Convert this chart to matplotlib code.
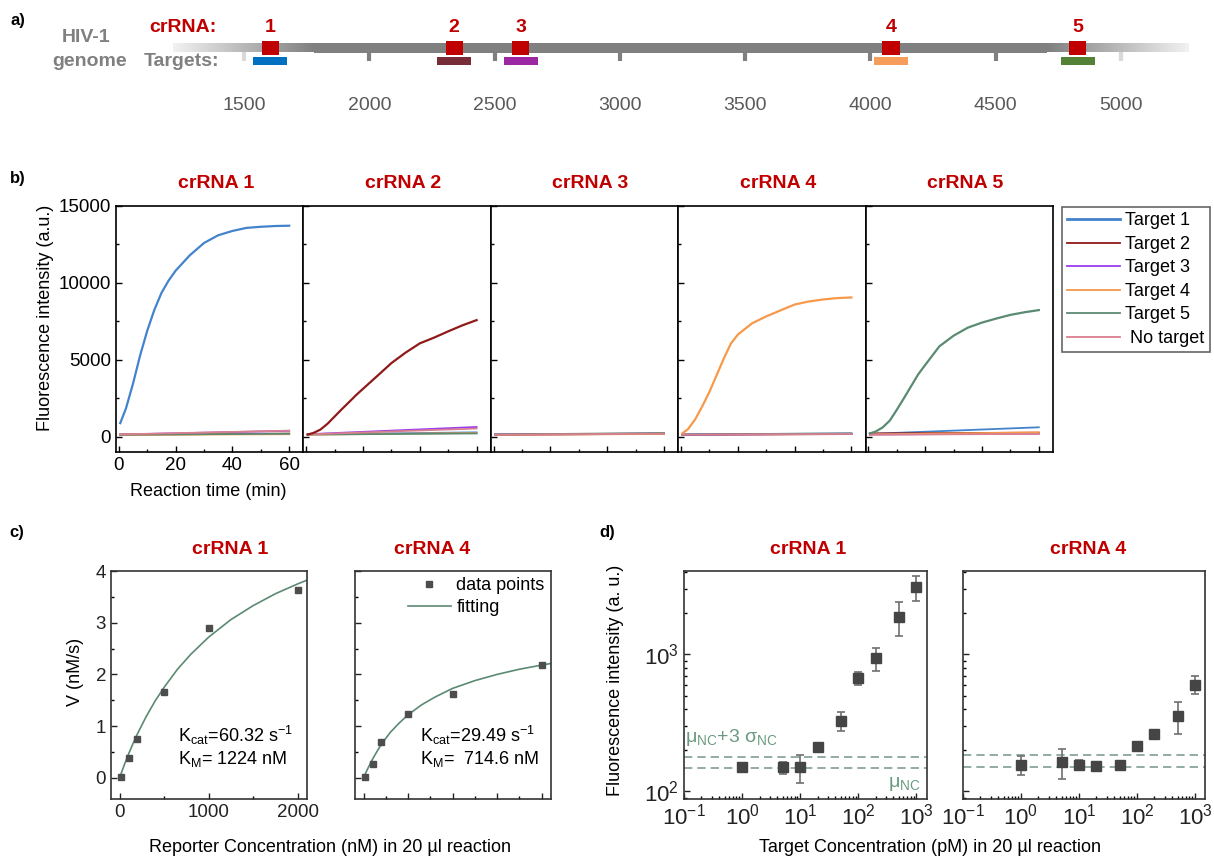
import numpy as np
import matplotlib
matplotlib.use('Agg')
import matplotlib.pyplot as plt
from matplotlib.patches import Rectangle
from matplotlib.colors import LinearSegmentedColormap
from matplotlib.lines import Line2D
from matplotlib.ticker import MultipleLocator, LogLocator, NullFormatter

W, H = 1214, 859
plt.rcParams['font.family'] = ['Liberation Sans', 'DejaVu Sans']
plt.rcParams['mathtext.fontset'] = 'custom'
plt.rcParams['mathtext.rm'] = 'Liberation Sans'
plt.rcParams['mathtext.it'] = 'Liberation Sans:italic'
plt.rcParams['mathtext.bf'] = 'Liberation Sans:bold'
plt.rcParams['mathtext.default'] = 'regular'
plt.rcParams['xtick.direction'] = 'in'
plt.rcParams['ytick.direction'] = 'in'

RED = '#c00000'
GRAY = '#808080'

# ---------------- data: a) genome map
genome_ticks = [1500, 2000, 2500, 3000, 3500, 4000, 4500, 5000]
crrna_names = ['1', '2', '3', '4', '5']
crrna_pos = [1604, 2338, 2605, 4082, 4828]
target_colors = ['#0070c0', '#772c38', '#9b27a3', '#f79d5c', '#538135']
genome_start, solid_start, solid_end, genome_end = 1217, 1779, 4704, 5267

# ---------------- data: b) kinetics (a.u.)
t_curve = [0.5, 2.5, 5, 7.5, 10, 12.5, 15, 17.5, 20, 25, 30, 35, 40, 45, 50, 55, 60]
signal_t1 = [900, 1850, 3470, 5300, 6900, 8250, 9350, 10150, 10800, 11800, 12600,
             13100, 13380, 13580, 13650, 13700, 13720]
signal_t2 = [160, 260, 480, 860, 1330, 1800, 2250, 2710, 3130, 3960, 4800, 5480,
             6080, 6450, 6860, 7250, 7590]
signal_t4 = [240, 520, 1150, 2000, 2930, 4000, 5070, 6050, 6650, 7380, 7830, 8220,
             8600, 8800, 8930, 9020, 9060]
signal_t5 = [230, 350, 620, 1060, 1770, 2520, 3290, 4060, 4680, 5890, 6580, 7100,
             7430, 7690, 7930, 8100, 8240]
signals = {0: signal_t1, 1: signal_t2, 3: signal_t4, 4: signal_t5}

t_base = [0.5, 60]
# rows: crRNA 1..5, columns: Target 1..5, No target (start / end values)
base_start = [[None, 150, 160, 140, 150, 170],
              [170, None, 180, 150, 160, 170],
              [160, 150, 150, 130, 160, 150],
              [170, 140, 150, None, 160, 150],
              [200, 230, 160, 170, None, 150]]
base_end = [[None, 220, 400, 180, 210, 410],
            [300, None, 650, 260, 230, 550],
            [200, 210, 230, 200, 260, 220],
            [230, 190, 210, None, 230, 200],
            [630, 280, 220, 300, None, 200]]
series_labels = ['Target 1', 'Target 2', 'Target 3', 'Target 4', 'Target 5', ' No target']
series_colors = ['#4383cc', '#8e1a1a', '#9b3cf0', '#f7994a', '#5b8a72', '#d9808e']
panel_titles = ['crRNA 1', 'crRNA 2', 'crRNA 3', 'crRNA 4', 'crRNA 5']

# ---------------- data: c) Michaelis-Menten
reporter_nM = [10, 100, 200, 500, 1000, 2000]
v_crrna1 = [0.02, 0.39, 0.75, 1.65, 2.90, 3.63]
v_crrna4 = [0.02, 0.27, 0.69, 1.24, 1.63, 2.19]
fit_nM = [10, 25, 50, 100, 150, 200, 300, 400, 500, 650, 800, 1000, 1250, 1500, 1750, 2000, 2100]
fit_crrna1 = [0.05, 0.12, 0.24, 0.46, 0.66, 0.85, 1.19, 1.49, 1.75, 2.10, 2.39, 2.72,
              3.06, 3.33, 3.56, 3.75, 3.82]
fit_crrna4 = [0.04, 0.10, 0.19, 0.36, 0.51, 0.65, 0.88, 1.06, 1.22, 1.41, 1.56, 1.73,
              1.88, 2.00, 2.10, 2.18, 2.21]
kin_text = ['K$_{cat}$=60.32 s$^{-1}$\nK$_{M}$= 1224 nM',
            'K$_{cat}$=29.49 s$^{-1}$\nK$_{M}$=  714.6 nM']

# ---------------- data: d) limit of detection
target_pM = [1, 5, 10, 20, 50, 100, 200, 500, 1000]
fl_crrna1 = [150, 150, 150, 211, 327, 668, 935, 1880, 3076]
err_crrna1 = [0, 15, 35, 8, 53, 69, 175, 520, 620]
fl_crrna4 = [156, 163, 157, 152, 157, 216, 264, 357, 601]
err_crrna4 = [24, 40, 13, 0, 0, 0, 0, 93, 89]
mu_nc = [147, 151]
mu3s_nc = [179, 185]


def box(l, t, r, b):
    return [l / W, 1 - b / H, (r - l) / W, (b - t) / H]


def fx(px):
    return px / W


def fy(py):
    return 1 - py / H


fig = plt.figure(figsize=(W / 100, H / 100), dpi=100)

# ================= a)
ax = fig.add_axes([0, 1 - 130 / H, 1, 130 / H])
ax.axis('off')
cmap = LinearSegmentedColormap.from_list('g', ['#f2f2f2', GRAY])
grad = np.linspace(0, 1, 256).reshape(1, -1)
ax.imshow(grad, cmap=cmap, extent=(genome_start, solid_start, 52, 43), aspect='auto')
ax.imshow(grad[:, ::-1], cmap=cmap, extent=(solid_end, genome_end, 52, 43), aspect='auto')
ax.add_patch(Rectangle((solid_start, 42.5), solid_end - solid_start, 10, color=GRAY, lw=0))
ax.set_xlim(526, 5371)
ax.set_ylim(130, 0)
for g in genome_ticks:
    c = '#d9d9d9' if g in (1500, 5000) else GRAY
    ax.plot([g, g], [52, 61], color=c, lw=3, solid_capstyle='butt')
    ax.text(g, 106, str(g), ha='center', va='center', fontsize=14, color='#595959')
for name, pos, col in zip(crrna_names, crrna_pos, target_colors):
    ax.add_patch(Rectangle((pos - 34, 41), 68, 14, color=RED, lw=0, zorder=3))
    ax.add_patch(Rectangle((pos - 68, 57), 136, 8, color=col, lw=0))
    ax.text(pos, 28, name, ha='center', va='center', fontsize=14, color=RED, fontweight='bold')
fig.text(fx(183), fy(27), 'crRNA:', ha='center', va='center', fontsize=14, color=RED, fontweight='bold')
fig.text(fx(86), fy(38), 'HIV-1', ha='center', va='center', fontsize=14, color=GRAY, fontweight='bold')
fig.text(fx(90), fy(62), 'genome', ha='center', va='center', fontsize=14, color=GRAY, fontweight='bold')
fig.text(fx(181), fy(62), 'Targets:', ha='center', va='center', fontsize=14, color=GRAY, fontweight='bold')

# ================= b)
pw = (1053 - 116) / 5
for i in range(5):
    ax = fig.add_axes(box(116 + i * pw, 206, 116 + (i + 1) * pw, 452))
    for j in range(6):
        if base_start[i][j] is None:
            continue
        ax.plot(t_base, [base_start[i][j], base_end[i][j]], color=series_colors[j], lw=1.3)
    if i in signals:
        ax.plot(t_curve, signals[i], color=series_colors[i], lw=1.6)
    ax.set_xlim(-1, 65)
    ax.set_ylim(-975, 15000)
    ax.xaxis.set_major_locator(MultipleLocator(20))
    ax.xaxis.set_minor_locator(MultipleLocator(10))
    ax.yaxis.set_major_locator(MultipleLocator(5000))
    ax.yaxis.set_minor_locator(MultipleLocator(2500))
    ax.tick_params(which='major', length=4, width=1, labelsize=13.5)
    ax.tick_params(which='minor', length=2, width=1)
    for s in ax.spines.values():
        s.set_linewidth(1.2)
    if i > 0:
        ax.tick_params(labelleft=False, labelbottom=False)
    fig.text(fx(116 + i * pw + pw / 2 + 6), fy(184), panel_titles[i], ha='center', va='center',
             fontsize=14, color=RED, fontweight='bold')
fig.text(fx(208), fy(492), 'Reaction time (min)', ha='center', va='center', fontsize=13)
fig.text(fx(46), fy(318), 'Fluorescence intensity (a.u.)', ha='center', va='center',
         fontsize=13, rotation=90)
handles = [Line2D([], [], color=c, lw=2 if k == 0 else 1.3) for k, c in enumerate(series_colors)]
leg = fig.legend(handles, series_labels, loc='upper left', bbox_to_anchor=(fx(1062), fy(207)),
                 fontsize=13, frameon=True, fancybox=False, edgecolor='#404040',
                 handlelength=2.9, handletextpad=0.3, labelspacing=0.36, borderpad=0.3,
                 borderaxespad=0)
leg.get_frame().set_linewidth(1.2)

# ================= c)
FIT = '#5b8a72'
MK = '#4d4d4d'
c_boxes = [(111, 571, 307, 799), (355, 571, 551, 799)]
c_vals = [v_crrna1, v_crrna4]
c_fits = [fit_crrna1, fit_crrna4]
c_titles = [(230, 'crRNA 1'), (432, 'crRNA 4')]
c_text_x = [0.34, 0.33]
for k in range(2):
    ax = fig.add_axes(box(*c_boxes[k]))
    ax.plot(reporter_nM, c_vals[k], 's', color=MK, ms=5, label='data points', zorder=3)
    ax.plot(fit_nM, c_fits[k], '-', color=FIT, lw=1.2, label='fitting')
    ax.set_xlim(-97, 2105)
    ax.set_ylim(-0.41, 4.0)
    ax.yaxis.set_major_locator(MultipleLocator(1))
    ax.yaxis.set_minor_locator(MultipleLocator(0.5))
    if k == 0:
        ax.xaxis.set_major_locator(MultipleLocator(1000))
        ax.xaxis.set_minor_locator(MultipleLocator(500))
    else:
        ax.xaxis.set_major_locator(MultipleLocator(500))
        ax.xaxis.set_minor_locator(MultipleLocator(250))
        ax.tick_params(labelleft=False, labelbottom=False)
        ax.legend(loc='upper right', bbox_to_anchor=(1.0, 1.0), frameon=False, fontsize=13,
                  handlelength=2.4, handletextpad=0.3, labelspacing=0.25, borderpad=0.35,
                  borderaxespad=0, numpoints=1)
    ax.tick_params(which='major', length=4, width=1, labelsize=13.5, colors='#222222')
    ax.tick_params(which='minor', length=2, width=1)
    for s in ax.spines.values():
        s.set_linewidth(1.2)
        s.set_color('#333333')
    ax.text(c_text_x[k], 0.13, kin_text[k], transform=ax.transAxes, fontsize=13,
            linespacing=1.15, va='bottom', ha='left')
    fig.text(fx(c_titles[k][0]), fy(549), c_titles[k][1], ha='center', va='center',
             fontsize=14, color=RED, fontweight='bold')
fig.text(fx(75), fy(672), 'V (nM/s)', ha='center', va='center', fontsize=13, rotation=90)
fig.text(fx(330), fy(848), 'Reporter Concentration (nM) in 20 \u00b5l reaction', ha='center',
         va='center', fontsize=13)

# ================= d)
DASH = '#7fa08f'
d_boxes = [(684, 571, 927, 799), (963, 571, 1205, 799)]
d_vals = [fl_crrna1, fl_crrna4]
d_errs = [err_crrna1, err_crrna4]
d_xmax = [1528, 1490]
d_titles = [(808, 'crRNA 1'), (1088, 'crRNA 4')]
for k in range(2):
    ax = fig.add_axes(box(*d_boxes[k]))
    ax.set_xscale('log')
    ax.set_yscale('log')
    ax.axhline(mu3s_nc[k], color=DASH, lw=1.2, ls=(0, (5, 3)))
    ax.axhline(mu_nc[k], color=DASH, lw=1.2, ls=(0, (5, 3)))
    ax.errorbar(target_pM, d_vals[k], yerr=d_errs[k], fmt='s', color='#454545', ms=7.5,
                ecolor='#707070', elinewidth=1.2, capsize=3, capthick=1.2, zorder=3)
    ax.set_xlim(0.1, d_xmax[k])
    ax.set_ylim(88, 4050)
    ax.xaxis.set_major_locator(LogLocator(base=10, numticks=10))
    ax.xaxis.set_minor_locator(LogLocator(base=10, subs=np.arange(2, 10), numticks=10))
    ax.xaxis.set_minor_formatter(NullFormatter())
    ax.yaxis.set_minor_formatter(NullFormatter())
    ax.tick_params(which='major', length=4, width=1, labelsize=16, colors='#222222')
    ax.tick_params(which='minor', length=2, width=1)
    for s in ax.spines.values():
        s.set_linewidth(1.2)
        s.set_color('#333333')
    if k == 0:
        ax.text(0.005, 0.27, '\u03bc$_{NC}$+3 \u03c3$_{NC}$', transform=ax.transAxes,
                fontsize=14, color='#6a9a80', ha='left', va='center')
        ax.text(0.975, 0.065, '\u03bc$_{NC}$', transform=ax.transAxes, fontsize=14,
                color='#6a9a80', ha='right', va='center')
    else:
        ax.tick_params(labelleft=False)
    fig.text(fx(d_titles[k][0]), fy(549), d_titles[k][1], ha='center', va='center',
             fontsize=14, color=RED, fontweight='bold')
fig.text(fx(616), fy(680), 'Fluorescence intensity (a. u.)', ha='center', va='center',
         fontsize=13, rotation=90)
fig.text(fx(930), fy(848), 'Target Concentration (pM) in 20 \u00b5l reaction', ha='center',
         va='center', fontsize=13)

# panel letters
for lab, x, y in [('a)', 18, 20), ('b)', 18, 178), ('c)', 17, 532), ('d)', 607, 532)]:
    fig.text(fx(x), fy(y), lab, ha='center', va='center', fontsize=12, fontweight='bold')

fig.savefig('out.png', dpi=100)
